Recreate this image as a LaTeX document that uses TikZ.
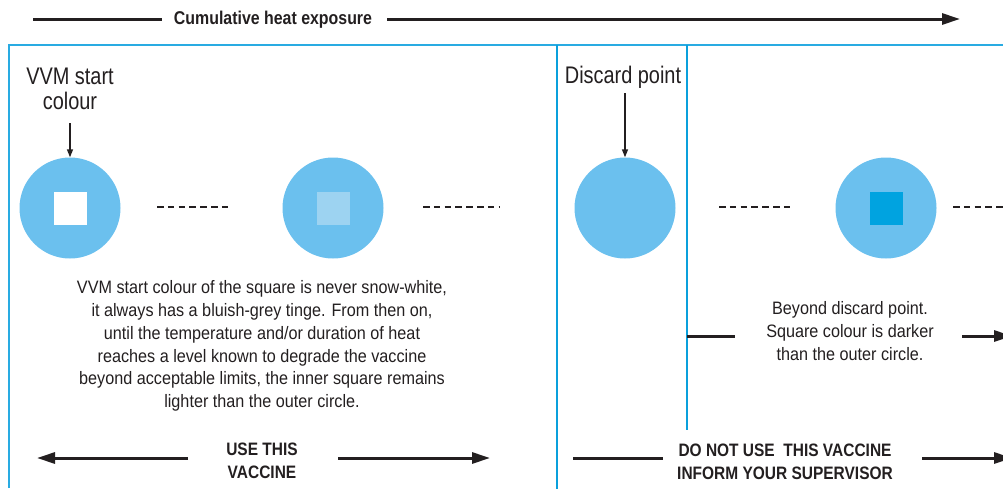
\documentclass[tikz,border=0pt]{standalone}
\usepackage{fontspec}
\setmainfont{Liberation Sans}[FakeStretch=0.9]
\newfontfamily\lblfont{Liberation Sans}[FakeStretch=0.83]
\newfontfamily\bfont{Liberation Sans}[FakeStretch=0.86]
\usetikzlibrary{arrows.meta}
\definecolor{txt}{HTML}{231F20}
\definecolor{frame}{HTML}{29ABE2}
\definecolor{vline}{HTML}{0AA0DC}
\definecolor{disc}{HTML}{6BC0EE}
\definecolor{sqlight}{HTML}{9DD3F1}
\definecolor{sqdark}{HTML}{00A3E0}
\begin{document}
\begin{tikzpicture}[x=1pt,y=-1pt,
  every node/.style={text=txt},
  lbl/.style={font=\lblfont\fontsize{24}{24.5}\selectfont, align=center, inner sep=0pt},
  para/.style={font=\fontsize{18}{22.8}\selectfont, align=center, inner sep=0pt},
  boldlbl/.style={font=\bfont\bfseries\fontsize{18}{23.5}\selectfont, align=center, inner sep=0pt},
  bigarrow/.style={draw=txt, line width=3pt, -{Triangle[length=18pt,width=11pt]}},
  bigline/.style={draw=txt, line width=3pt},
  smallarrow/.style={draw=txt, line width=1.4pt, -{Triangle[length=8pt,width=6pt]}},
  framel/.style={draw=frame, line width=2pt},
  vl/.style={draw=vline, line width=2pt},
  disk/.style={circle, fill=disc, minimum size=101pt, inner sep=0pt},
  sq/.style={rectangle, minimum size=33pt, inner sep=0pt},
  dots/.style={draw=txt, line width=2.4pt, dash pattern=on 6.6pt off 4.2pt}]
\clip (0,0) rectangle (1003,488);
% title arrow
\node[boldlbl, font=\bfont\bfseries\fontsize{18.5}{20}\selectfont] (title) at (273,20) {Cumulative heat exposure};
\coordinate (tl) at (33,19);
\coordinate (tr) at (960,19);
\coordinate (tlm) at (162,19);
\coordinate (trm) at (387,19);
\draw[bigline] (tl) -- (tlm);
\draw[bigarrow] (trm) -- (tr);
% frame
\coordinate (f0) at (9,488);
\coordinate (f1) at (9,45);
\coordinate (f2) at (1010,45);
\draw[framel] (f0) -- (f1) -- (f2);
\coordinate (v1t) at (557,45); \coordinate (v1b) at (557,490);
\coordinate (v2t) at (687,45); \coordinate (v2b) at (687,430);
\draw[vl] (v1t) -- (v1b);
\draw[vl] (v2t) -- (v2b);
% circles
\node[disk] (c1) at (70,208) {};
\node[sq, fill=white] (s1) at (c1) {};
\node[disk] (c2) at (333,208) {};
\node[sq, fill=sqlight] (s2) at (c2) {};
\node[disk] (c3) at (625,208) {};
\node[disk] (c4) at (886,208) {};
\node[sq, fill=sqdark] (s4) at (c4) {};
% dashes
\coordinate (d1a) at (157,207); \coordinate (d1b) at (232,207);
\coordinate (d2a) at (423,207); \coordinate (d2b) at (499,207);
\coordinate (d3a) at (719,207); \coordinate (d3b) at (794,207);
\coordinate (d4a) at (953,207); \coordinate (d4b) at (1010,207);
\draw[dots] (d1a) -- (d1b);
\draw[dots] (d2a) -- (d2b);
\draw[dots] (d3a) -- (d3b);
\draw[dots] (d4a) -- (d4b);
% labels
\node[lbl] (vvm) at (70,89) {VVM start\\colour};
\coordinate (a1s) at (70,123);
\draw[smallarrow] (a1s) -- (c1.north);
\node[lbl] (dp) at (623,77) {Discard point};
\coordinate (a2s) at (625,93);
\draw[smallarrow] (a2s) -- (c3.north);
% paragraph
\node[para] (p1) at (262,346) {VVM start colour of the square is never snow-white,\\it always has a bluish-grey tinge. From then on,\\until the temperature and/or duration of heat\\reaches a level known to degrade the vaccine\\beyond acceptable limits, the inner square remains\\lighter than the outer circle.};
\node[para] (p2) at (850,331) {Beyond discard point.\\Square colour is darker\\than the outer circle.};
\coordinate (b1a) at (687,336); \coordinate (b1b) at (735,336);
\coordinate (b2a) at (962,336); \coordinate (b2b) at (1012,336);
\draw[bigline] (b1a) -- (b1b);
\draw[bigarrow] (b2a) -- (b2b);
% bottom
\node[boldlbl] (use) at (262,461) {USE THIS\\VACCINE};
\coordinate (u1a) at (188,458); \coordinate (u1b) at (37,458);
\coordinate (u2a) at (338,458); \coordinate (u2b) at (490,458);
\draw[bigarrow] (u1a) -- (u1b);
\draw[bigarrow] (u2a) -- (u2b);
\node[boldlbl] (dnu) at (785,462) {DO NOT USE\ \ THIS VACCINE\\INFORM YOUR SUPERVISOR};
\coordinate (n1a) at (573,458); \coordinate (n1b) at (663,458);
\coordinate (n2a) at (922,458); \coordinate (n2b) at (1012,458);
\draw[bigline] (n1a) -- (n1b);
\draw[bigarrow] (n2a) -- (n2b);
\end{tikzpicture}
\end{document}
